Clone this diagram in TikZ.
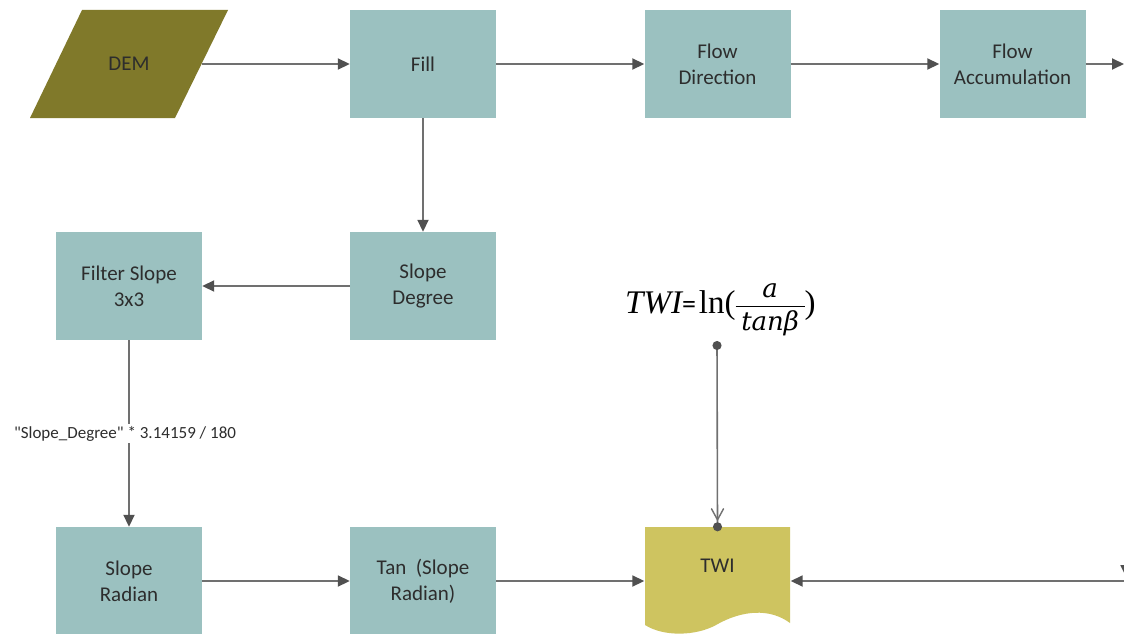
\documentclass[tikz,border=0pt]{standalone}
\usepackage{fontspec}
\setmainfont{Carlito}
\newfontfamily\tnr{Liberation Serif}
\newfontfamily\fracfont{DejaVu Serif}
\usetikzlibrary{arrows.meta}

\definecolor{boxteal}{RGB}{155,193,192}
\definecolor{demolive}{RGB}{128,121,42}
\definecolor{twiyellow}{RGB}{206,196,96}
\definecolor{linegray}{RGB}{112,112,112}
\definecolor{tipgray}{RGB}{80,80,80}
\definecolor{txt}{RGB}{45,45,45}

% stacked fraction: numerator, rule, denominator; baseline on the denominator
\newcommand\stackfrac[2]{\raisebox{-17pt}{\vbox{%
  \hbox to 69pt{\hss#1\hss}\kern8pt
  \hrule height 1.5pt\kern3pt
  \hbox to 69pt{\hss#2\hss}}}}

\begin{document}
\begin{tikzpicture}[x=1pt,y=-1pt,
  boxtext/.style={text=txt, align=center, font=\fontsize{21}{26}\selectfont},
  stepbox/.style={boxtext, fill=boxteal, minimum width=146pt, minimum height=108pt, inner sep=0pt},
  plainbox/.style={boxtext, minimum width=146pt, inner sep=0pt},
  flow/.style={draw=linegray, line width=1.8pt,
    -{Triangle[length=12pt,width=11pt,color=tipgray]}},
  probe/.style={draw=linegray, line width=1.6pt,
    {Circle[length=9pt,color=tipgray]}-{Circle[length=9pt,color=tipgray]}},
  barb/.style={draw=linegray, line width=1.4pt, line cap=round},
  edgelabel/.style={fill=white, text=txt, inner sep=2pt, font=\fontsize{17}{20}\selectfont},
  formula/.style={text=black, inner sep=0pt, font=\fontsize{33}{38}\selectfont}
]
\useasboundingbox (0,0) rectangle (1124,634);
\fill[white] (0,0) rectangle (1124,634);

% input raster: parallelogram
\fill[demolive] (82,10) -- (228,10) -- (175,118) -- (30,118) -- cycle;
\node[plainbox, minimum width=145pt, minimum height=108pt] (dem) at (129,64) {DEM};

% processing steps
\node[stepbox] (fill) at (423,64) {Fill};
\node[stepbox] (fd)   at (717.5,64) {Flow\\Direction};
\node[stepbox] (fa)   at (1012.5,64) {Flow\\Accumulation};
\node[stepbox] (sd)   at (423,286) {Slope\\Degree};
\node[stepbox] (fs)   at (129,286) {Filter Slope\\3x3};
\node[stepbox] (sr)   at (129,581) {Slope\\Radian};
\node[stepbox] (tan)  at (423,581) {Tan\ \ (Slope\\Radian)};

% output document shape with wavy lower edge
\fill[twiyellow] (645,527) -- (790,527) -- (790,623)
  .. controls (770,608) and (742,610) .. (716,625)
  .. controls (696,636) and (664,637) .. (645,625) -- cycle;
\node[plainbox, minimum height=78pt] (twi) at (717.5,566) {TWI};

% index formula
\node[formula, anchor=base west] (eq) at (625,313)
  {{\tnr\itshape TWI}{\fontsize{28}{28}\selectfont=}\kern3pt{\tnr ln(}\stackfrac
    {\fontsize{26}{26}\selectfont\fracfont\itshape a}
    {\fontsize{26}{26}\selectfont\fracfont\itshape tanβ}{\tnr)}};
\coordinate (eqdot) at (717,341);

% right-hand routing
\coordinate (faOut) at (1124,64);
\coordinate (rTop) at (1126,64);
\coordinate (rBot) at (1126,577);
\coordinate (rIn)  at (1124,581);

% connectors
\draw[flow] (dem) -- (fill);
\draw[flow] (fill) -- (fd);
\draw[flow] (fd) -- (fa);
\draw[flow] (fa) -- (faOut);
\draw[flow] (fill) -- (sd);
\draw[flow] (sd) -- (fs);
\draw[flow] (fs) -- node[edgelabel, xshift=-4pt]
  {\textquotedbl Slope\_Degree\textquotedbl{} * 3.14159 / 180} (sr);
\draw[flow] (sr) -- (tan);
\draw[flow] (tan) -- (tan -| twi.west);
\draw[flow] (rTop) -- (rBot);
\draw[flow] (rIn) -- (rIn -| twi.east);
\draw[probe, shorten >=-4.5pt] (eqdot) -- (twi.north);
\draw[barb] ([xshift=-6pt,yshift=18pt]twi.north) -- ([yshift=7pt]twi.north) -- ([xshift=6pt,yshift=18pt]twi.north);
\end{tikzpicture}
\end{document}
